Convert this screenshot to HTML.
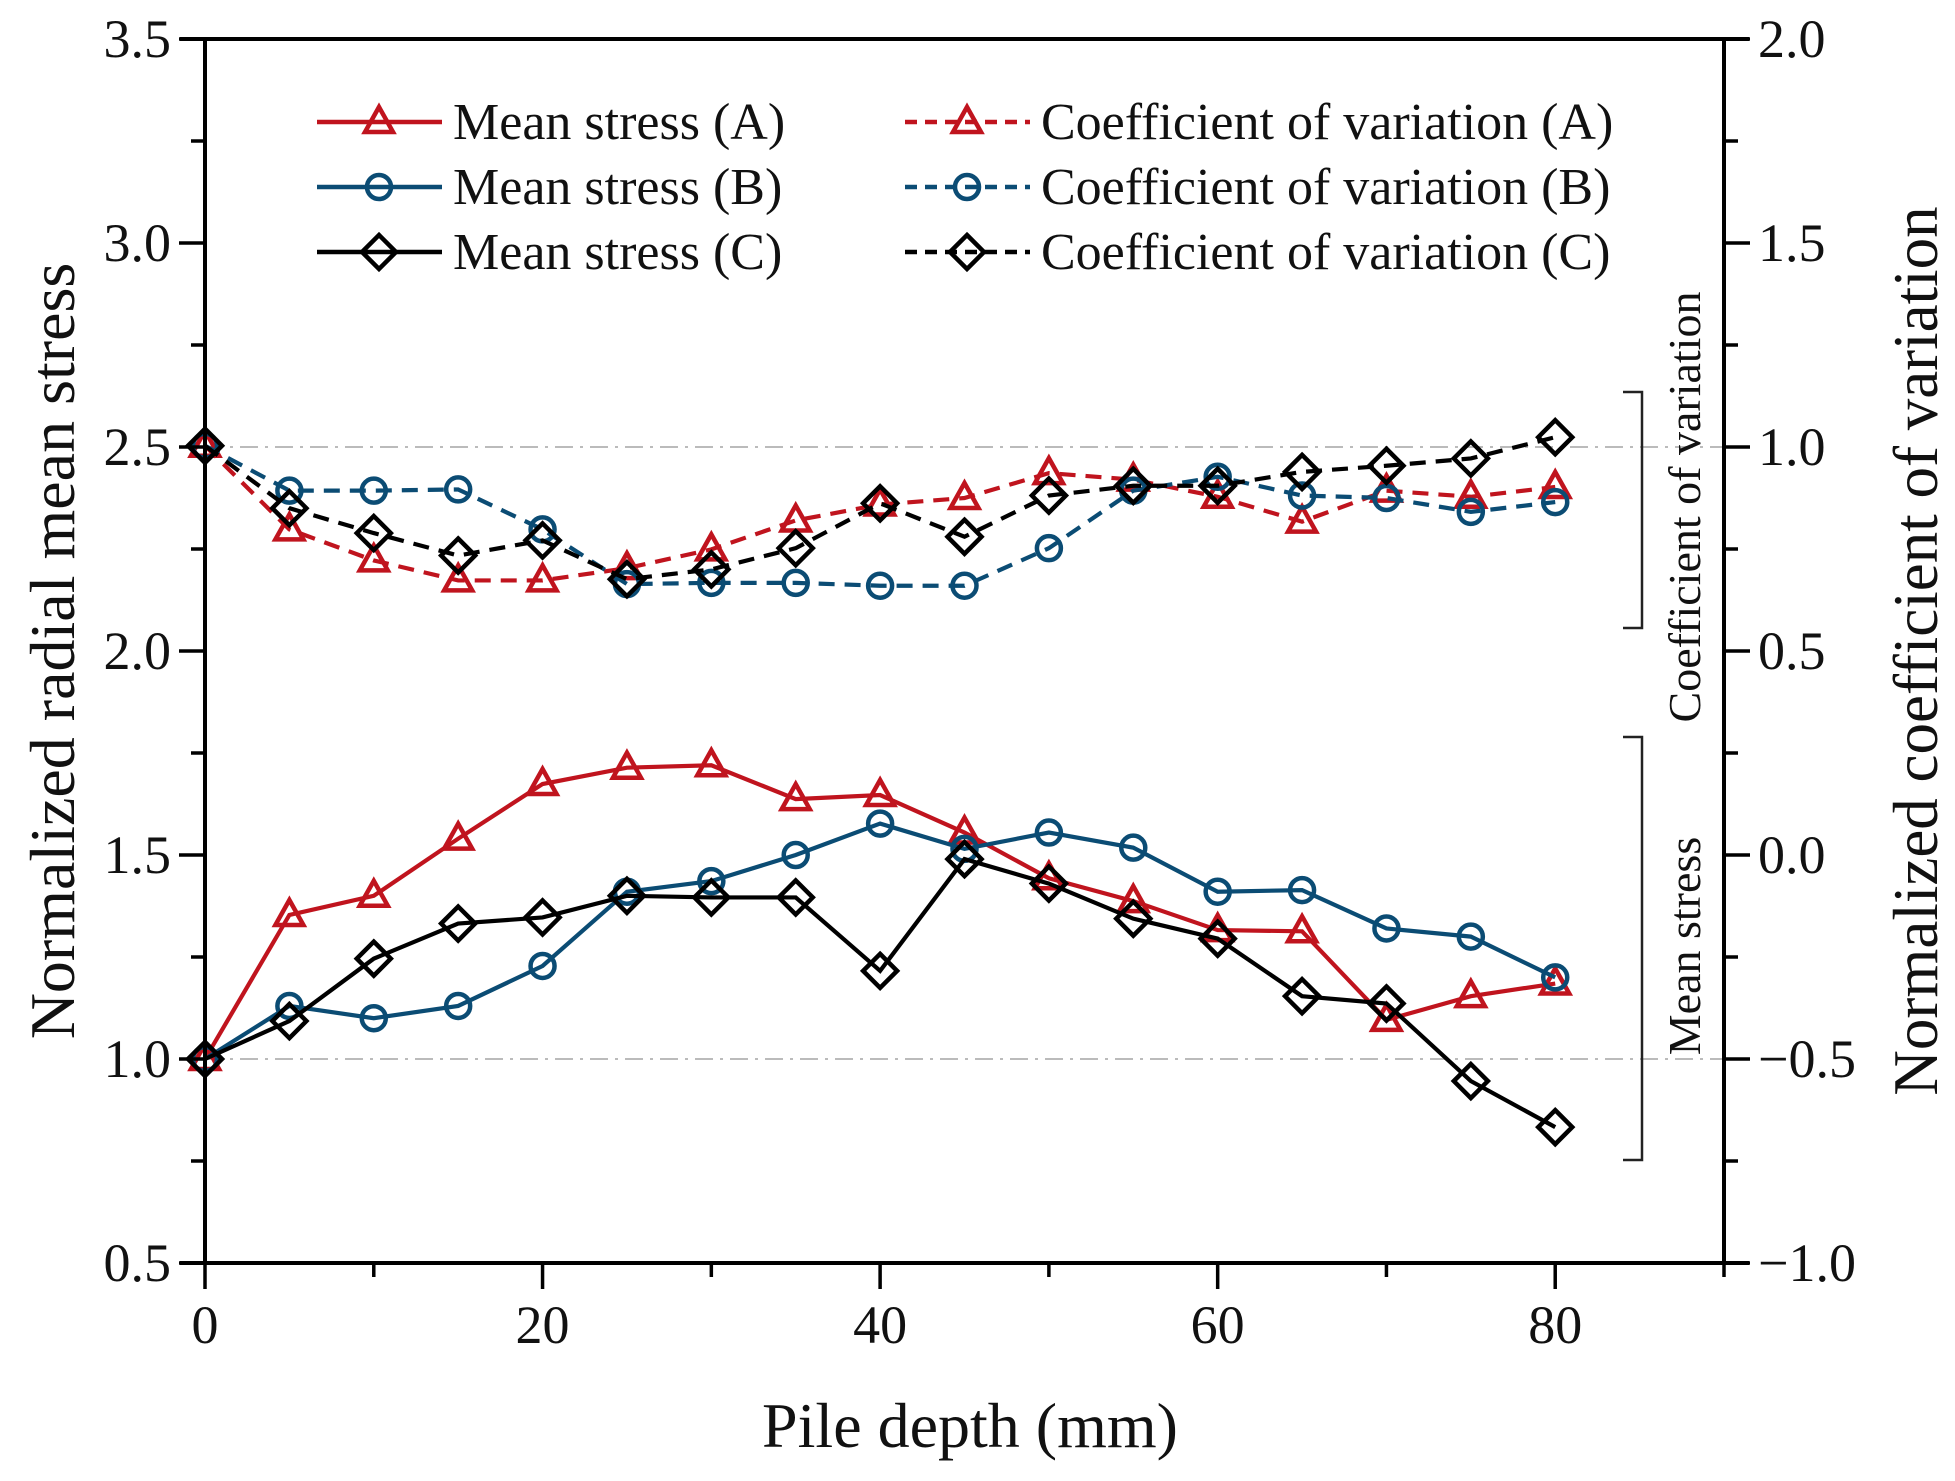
<!DOCTYPE html>
<html><head><meta charset="utf-8"><style>
html,body{margin:0;padding:0;background:#fff;}
svg{display:block;font-family:"Liberation Serif",serif;}
</style></head><body>
<svg id="chart" width="1955" height="1481" viewBox="0 0 1955 1481" xmlns="http://www.w3.org/2000/svg">
<rect width="1955" height="1481" fill="#fff"/>
<g id="grid"></g>
<g id="series"></g>
<g id="axes"></g>
<g id="legend"></g>
<g fill="none" stroke="#222" stroke-width="2.5">
<polyline points="1623,392 1642,392 1642,628 1623,628"/>
</g>
<g fill="none" stroke="#222" stroke-width="2.5">
<polyline points="1623,737 1642,737 1642,1160 1623,1160"/>
</g>
<text transform="translate(1700,507) rotate(-90)" text-anchor="middle" font-size="46" fill="#111">Coefficient of variation</text>
<text transform="translate(1700,946) rotate(-90)" text-anchor="middle" font-size="46" fill="#111">Mean stress</text>
<text x="970" y="1447" text-anchor="middle" font-size="64" fill="#111">Pile depth (mm)</text>
<text transform="translate(74,651) rotate(-90)" text-anchor="middle" font-size="64" fill="#111">Normalized radial mean stress</text>
<text transform="translate(1937,651) rotate(-90)" text-anchor="middle" font-size="63" fill="#111">Normalized coefficient of variation</text>
</svg>
<script>
const depths=[0,5,10,15,20,25,30,35,40,45,50,55,60,65,70,75,80];
const meanA=[1.0,1.353,1.40,1.54,1.674,1.714,1.72,1.637,1.647,1.555,1.443,1.387,1.316,1.313,1.096,1.154,1.185];
const meanB=[1.0,1.13,1.10,1.13,1.228,1.41,1.436,1.50,1.577,1.515,1.555,1.518,1.41,1.414,1.32,1.30,1.20];
const meanC=[1.0,1.093,1.246,1.332,1.347,1.40,1.396,1.396,1.216,1.49,1.43,1.344,1.295,1.154,1.136,0.946,0.833];
const cvA=[1.003,0.798,0.722,0.673,0.673,0.703,0.749,0.82,0.859,0.875,0.936,0.92,0.878,0.817,0.893,0.878,0.902];
const cvB=[1.003,0.893,0.893,0.896,0.798,0.664,0.667,0.667,0.66,0.66,0.752,0.893,0.927,0.881,0.875,0.841,0.865];
const cvC=[1.003,0.85,0.789,0.734,0.771,0.676,0.70,0.752,0.862,0.78,0.881,0.905,0.905,0.939,0.954,0.972,1.024];
const xTicks=[0,20,40,60,80];
const yLeftTicks=["0.5","1.0","1.5","2.0","2.5","3.0","3.5"];
const yRightTicks=["\u22121.0","\u22120.5","0.0","0.5","1.0","1.5","2.0"];

const L=205,R=1724,T=39,B=1263;
const X=v=>L+(v-0)/90*(R-L);
const YL=v=>B-(v-0.5)/3*(B-T);
const YR=v=>B-(v+1)/3*(B-T);
const NS="http://www.w3.org/2000/svg";
function mk(tag,attrs,parent){const e=document.createElementNS(NS,tag);for(const k in attrs)e.setAttribute(k,attrs[k]);parent.appendChild(e);return e;}
const grid=document.getElementById('grid'),ser=document.getElementById('series'),ax=document.getElementById('axes'),leg=document.getElementById('legend');

[1.0,2.5].forEach(v=>{const l=mk('line',{x1:L,x2:R,y1:YL(v),y2:YL(v),stroke:'#bbb','stroke-width':2,'stroke-dasharray':'18,7,3,7'},grid);

});

function marker(type,cx,cy,color,parent){
  let e;
  if(type==='tri'){e=mk('polygon',{points:`${cx},${cy-15} ${cx-14},${cy+10} ${cx+14},${cy+10}`},parent);}
  else if(type==='circ'){e=mk('circle',{cx:cx,cy:cy,r:12},parent);}
  else {e=mk('polygon',{points:`${cx},${cy-17} ${cx+17},${cy} ${cx},${cy+17} ${cx-17},${cy}`},parent);}
  e.setAttribute('fill','none');e.setAttribute('stroke',color);e.setAttribute('stroke-width',4.5);
  return e;
}
const series=[
 {name:'mean-a',data:meanA,y:YL,color:'#c0141e',m:'tri',dash:null},
 {name:'mean-b',data:meanB,y:YL,color:'#0b4c74',m:'circ',dash:null},
 {name:'mean-c',data:meanC,y:YL,color:'#000',m:'dia',dash:null},
 {name:'cv-a',data:cvA,y:YR,color:'#c0141e',m:'tri',dash:'16,10'},
 {name:'cv-b',data:cvB,y:YR,color:'#0b4c74',m:'circ',dash:'16,10'},
 {name:'cv-c',data:cvC,y:YR,color:'#000',m:'dia',dash:'16,10'}
];
series.forEach(s=>{
  const g=mk('g',{},ser);
  
  
  const pts=s.data.map((v,i)=>X(depths[i])+','+s.y(v)).join(' ');
  const pl=mk('polyline',{points:pts,fill:'none',stroke:s.color,'stroke-width':4.2},g);
  if(s.dash)pl.setAttribute('stroke-dasharray',s.dash);
  
  
  s.data.forEach((v,i)=>{const m=marker(s.m,X(depths[i]),s.y(v),s.color,g);
    
    });
});

mk('line',{x1:L,x2:L,y1:T,y2:B+2,stroke:'#000','stroke-width':4},ax);
mk('line',{x1:R,x2:R,y1:T,y2:B+2,stroke:'#000','stroke-width':4},ax);
mk('line',{x1:L-25,x2:R+25,y1:B,y2:B,stroke:'#000','stroke-width':4},ax);
mk('line',{x1:L-25,x2:R+25,y1:T,y2:T,stroke:'#000','stroke-width':4},ax);
for(let v=0;v<=90;v+=10){const major=v%20===0;mk('line',{x1:X(v),x2:X(v),y1:B,y2:B+(major?26:14),stroke:'#000','stroke-width':3.5},ax);}
xTicks.forEach(v=>{const t=mk('text',{x:X(v),y:B+80,'text-anchor':'middle','font-size':54,fill:'#111'},ax);t.textContent=v;
  
  });
for(let k=0;k<=12;k++){const y=B-k*(B-T)/12;const major=k%2===0;
  mk('line',{x1:L-(major?26:14),x2:L,y1:y,y2:y,stroke:'#000','stroke-width':3.5},ax);
  mk('line',{x1:R,x2:R+(major?26:14),y1:y,y2:y,stroke:'#000','stroke-width':3.5},ax);}
yLeftTicks.forEach((s,i)=>{const t=mk('text',{x:L-34,y:B-i*(B-T)/6+18,'text-anchor':'end','font-size':54,fill:'#111'},ax);t.textContent=s;
  
  });
yRightTicks.forEach((s,i)=>{const t=mk('text',{x:R+34,y:B-i*(B-T)/6+18,'text-anchor':'start','font-size':54,fill:'#111'},ax);t.textContent=s;
  
  });

const legItems=[
 ['Mean stress (A)',0,0],['Mean stress (B)',1,0],['Mean stress (C)',2,0],
 ['Coefficient of variation (A)',3,1],['Coefficient of variation (B)',4,1],['Coefficient of variation (C)',5,1]];
legItems.forEach(([label,si,col])=>{
  const s=series[si];const row=si%3;const y=122+row*65;const x0=col?905:317;
  const g=mk('g',{},leg);
  
  
  const l=mk('line',{x1:x0,x2:x0+125,y1:y,y2:y,stroke:s.color,'stroke-width':4.5},g);
  if(s.dash)l.setAttribute('stroke-dasharray','12,8');
  marker(s.m,x0+62,y,s.color,g);
  const t=mk('text',{x:x0+136,y:y+17,'font-size':52,fill:'#111'},g);t.textContent=label;
});
</script>
</body></html>
